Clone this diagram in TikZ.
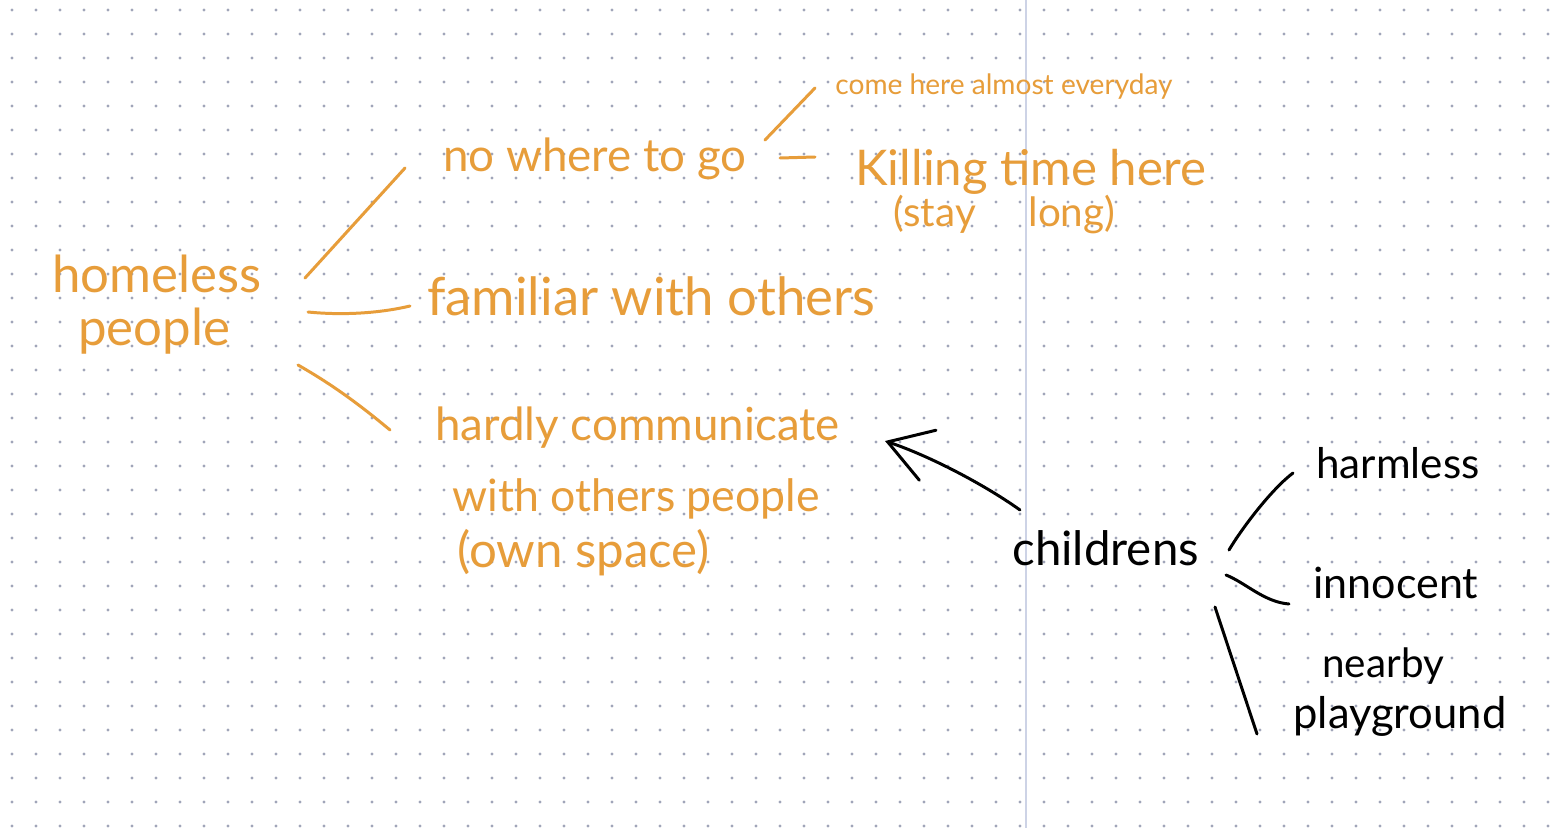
\documentclass[tikz,border=0pt]{standalone}
\usepackage{fontspec}
\setmainfont{Lato}
\usetikzlibrary{arrows.meta}
\definecolor{inkorange}{RGB}{231,157,58}
\definecolor{inkdot}{RGB}{160,165,185}
\definecolor{inkrule}{RGB}{205,211,230}
\begin{document}
\begin{tikzpicture}[x=0.02cm, y=-0.02cm,
  hpdot/.style = {fill=inkdot},
  hporange/.style = {draw=inkorange, line width=1.7pt, line cap=round},
  hpblack/.style = {draw=black, line width=1.7pt, line cap=round},
  hpword/.style = {inner sep=0pt, anchor=base west, text=inkorange},
  hpbword/.style = {inner sep=0pt, anchor=base west, text=black},
  hpsize/.style = {font=\fontsize{#1}{#1}\selectfont}
]
  % page with dots
  \fill[white] (0,0) rectangle (1552,828);
  \useasboundingbox (0,0) rectangle (1552,828);
  \foreach \i in {0,...,64}
    \foreach \j in {0,...,34}
      \fill[hpdot] (12+24*\i, 10+24*\j) circle (0.95pt);
  \draw[inkrule, line width=0.9pt] (1026,0) -- (1026,828);
  % homeless people side
  \node[hpword, hpsize=29] (home) at (52,292) {homeless};
  \node[hpword, hpsize=29] (people) at (78,345) {people};
  \node[hpword, hpsize=26] (nowhere) at (443,172) {no where to go};
  \node[hpword, hpsize=16] (comehere) at (835,95) {come here almost everyday};
  \node[hpword, hpsize=28] (killing) at (855,185) {Killing time here};
  \node[hpword, hpsize=23] (staylong) at (893,226) {(stay\hspace{30pt}long)};
  \node[hpword, hpsize=30] (familiar) at (427,315) {familiar with others};
  \node[hpword, hpsize=26] (hardly) at (435,440) {hardly communicate};
  \node[hpword, hpsize=25.4] (withothers) at (452,511) {with others people};
  \node[hpword, hpsize=28] (ownspace) at (457,567) {(own space)};
  \draw[hporange] ([shift={(253,-14)}]home.base west) -- ([shift={(-38,-4)}]nowhere.base west);
  \draw[hporange] ([shift={(256,20)}]home.base west) .. controls +(40,4) and +(-25,6) .. ([shift={(-17,-9)}]familiar.base west);
  \draw[hporange] ([shift={(220,20)}]people.base west) .. controls +(35,20) and +(-30,-25) .. ([shift={(-45,-10)}]hardly.base west);
  \draw[hporange] ([shift={(322,-32)}]nowhere.base west) -- ([shift={(-20,-7)}]comehere.base west);
  \draw[hporange] ([shift={(337,-14)}]nowhere.base west) -- ([shift={(-40,-28)}]killing.base west);
  % childrens side
  \node[hpbword, hpsize=27] (children) at (1012,565) {childrens};
  \node[hpbword, hpsize=24] (harmless) at (1316,478) {harmless};
  \node[hpbword, hpsize=24.5] (innocent) at (1313,598) {innocent};
  \node[hpbword, hpsize=23] (nearby) at (1322,677) {nearby};
  \node[hpbword, hpsize=24.8] (playground) at (1293,728) {playground};
  \draw[hpblack, -{Straight Barb[length=24pt, width=30pt, line cap=round]}]
    ([shift={(8,-55)}]children.base west) .. controls +(-35,-25) and +(45,15) .. ([shift={(450,1)}]hardly.base west);
  \draw[hpblack] ([shift={(217,-15)}]children.base west) .. controls +(15,-25) and +(-20,15) .. ([shift={(-23,-5)}]harmless.base west);
  \draw[hpblack] ([shift={(214,10)}]children.base west) .. controls +(20,8) and +(-25,-2) .. ([shift={(-24,6)}]innocent.base west);
  \draw[hpblack] ([shift={(203,42)}]children.base west) -- ([shift={(-36,6)}]playground.base west);
\end{tikzpicture}
\end{document}
